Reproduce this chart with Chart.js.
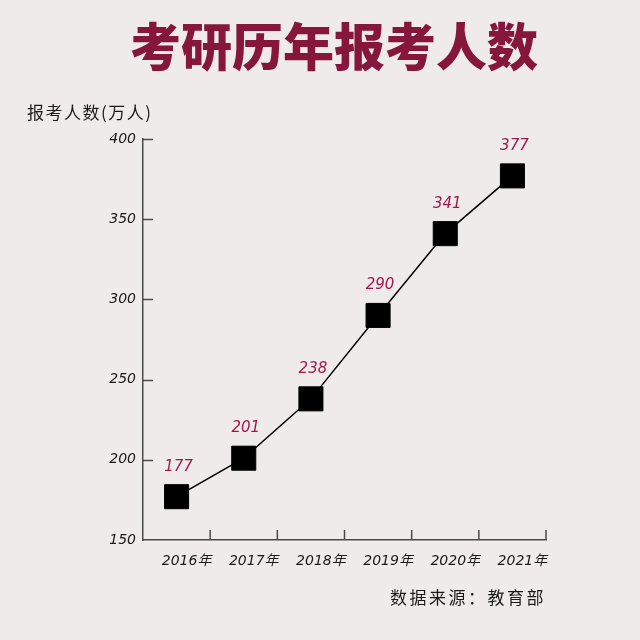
<!DOCTYPE html>
<html>
<head>
<meta charset="utf-8">
<script src="https://cdn.jsdelivr.net/npm/chart.js@4/dist/chart.umd.min.js"></script>
<style>
  html, body { margin: 0; padding: 0; background: #efebea; }
  #wrap { position: relative; width: 640px; height: 640px; }
</style>
</head>
<body>
<div id="wrap"><canvas id="c" width="640" height="640"></canvas></div>
<script>
/* ── Data ─────────────────────────────────────────── */
const years = ['2016年', '2017年', '2018年', '2019年', '2020年', '2021年'];
const applicants = [177, 201, 238, 290, 341, 377];
const yTicks = [150, 200, 250, 300, 350, 400];

const TITLE = '考研历年报考人数';
const Y_TITLE = '报考人数(万人)';
const SOURCE = '数据来源：教育部';

/* ── Design tokens ───────────────────────────────── */
const COLORS = {
  title: '#86163b',
  value: '#a3184c',
  axis: '#4a4a4a',
  text: '#1a1a1a',
  line: '#000',
};
const HAND = '"DejaVu Sans", "Noto Sans CJK SC", sans-serif';
const CJK = '"Noto Sans CJK SC", sans-serif';

/* ── Plugins ─────────────────────────────────────── */
// inward tick marks on both axes
const innerTicks = {
  id: 'innerTicks',
  afterDatasetsDraw(chart) {
    const { ctx, chartArea: a, scales: { x, y } } = chart;
    ctx.save();
    ctx.strokeStyle = COLORS.axis;
    ctx.lineWidth = 1.5;
    ctx.beginPath();
    yTicks.forEach(v => {
      if (v === y.min) return;
      const py = Math.round(y.getPixelForValue(v)) + 0.5;
      ctx.moveTo(a.left, py);
      ctx.lineTo(a.left + 10, py);
    });
    for (let i = 0; i < years.length; i++) {
      const px = i < years.length - 1
        ? (x.getPixelForTick(i) + x.getPixelForTick(i + 1)) / 2
        : a.right;
      ctx.moveTo(px, a.bottom);
      ctx.lineTo(px, a.bottom - 10);
    }
    ctx.stroke();
    ctx.restore();
  },
};

// value labels above markers + title, axis title, source
const texts = {
  id: 'texts',
  afterDraw(chart) {
    const { ctx } = chart;
    const meta = chart.getDatasetMeta(0);
    ctx.save();
    ctx.fillStyle = COLORS.value;
    ctx.font = `italic 15px ${HAND}`;
    ctx.textAlign = 'center';
    ctx.textBaseline = 'middle';
    meta.data.forEach((pt, i) => {
      ctx.fillText(String(applicants[i]), pt.x + 2, pt.y - 30);
    });

    ctx.fillStyle = COLORS.title;
    ctx.font = `900 51px ${CJK}`;
    ctx.fillText(TITLE, 334, 47);

    ctx.fillStyle = COLORS.text;
    ctx.font = `17px ${CJK}`;
    ctx.letterSpacing = '1.5px';
    ctx.textAlign = 'left';
    ctx.fillText(Y_TITLE, 27, 113);

    ctx.font = `17px ${CJK}`;
    ctx.letterSpacing = '2.5px';
    ctx.textAlign = 'right';
    ctx.fillText(SOURCE, 546, 598);
    ctx.restore();
  },
};

/* ── Chart ───────────────────────────────────────── */
new Chart(document.getElementById('c'), {
  type: 'line',
  data: {
    labels: years,
    datasets: [{
      data: applicants,
      borderColor: COLORS.line,
      borderWidth: 1.5,
      pointStyle: 'rect',
      pointRadius: 17,
      pointBackgroundColor: '#000',
      pointBorderColor: '#000',
      pointBorderWidth: 1,
      tension: 0,
    }],
  },
  options: {
    responsive: false,
    animation: false,
    devicePixelRatio: 1,
    layout: { padding: { top: 139, right: 94, bottom: 0, left: 0 } },
    plugins: { legend: { display: false }, tooltip: { enabled: false }, title: { display: false } },
    scales: {
      x: {
        type: 'category',
        offset: true,
        afterFit(s) { s.height = 100; },
        grid: { display: false, drawTicks: false },
        border: { display: true, color: COLORS.axis, width: 1.5 },
        ticks: {
          color: COLORS.text,
          padding: 13,
          labelOffset: 10,
          maxRotation: 0,
          font: { family: HAND, size: 14, style: 'italic', weight: 'normal' },
        },
      },
      y: {
        min: 150,
        max: 400,
        afterFit(s) { s.width = 143; },
        afterBuildTicks(s) { s.ticks = yTicks.map(v => ({ value: v })); },
        grid: { display: false, drawTicks: false },
        border: { display: true, color: COLORS.axis, width: 1.5 },
        ticks: {
          color: COLORS.text,
          padding: 7,
          font: { family: HAND, size: 14, style: 'italic', weight: 'normal' },
        },
      },
    },
  },
  plugins: [innerTicks, texts],
});
</script>
</body>
</html>
